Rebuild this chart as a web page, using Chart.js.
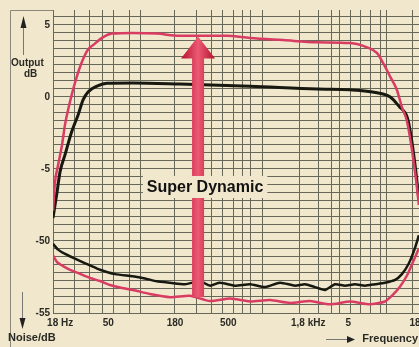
<!DOCTYPE html>
<html>
<head>
<meta charset="utf-8">
<script src="https://cdn.jsdelivr.net/npm/chart.js@4/dist/chart.umd.min.js"></script>
<style>
  html, body { margin: 0; padding: 0; background: #f0e7cd; }
  canvas { display: block; }
</style>
</head>
<body>
<canvas id="chart" width="419" height="347"></canvas>
<script>
// Frequenzgang (Output dB) - Super Dynamic (rot) und normal (schwarz)
const superFreq = [17.3, 18, 19.1, 20.6, 21.8, 23.4, 26.4, 30, 33.9, 37.3, 44.3, 53.7, 80, 127, 198, 488, 760, 1430, 2750, 5170, 7170, 8700, 9770, 11200, 12700, 14000, 15500, 17000, 18400, 19400];
const superOut  = [-7.9, -5.9, -4.7, -3.3, -1.9, -0.7, 1.0, 2.4, 3.3, 3.6, 4.1, 4.4, 4.45, 4.4, 4.25, 4.25, 4.1, 3.95, 3.8, 3.75, 3.45, 3.05, 2.35, 1.4, 0.5, -0.7, -1.75, -3.7, -5.8, -7.5];

const normalFreq = [17.3, 18.7, 19.8, 21.8, 24.8, 28.0, 30.8, 33.9, 40.3, 48.8, 80, 198, 760, 2750, 5170, 8700, 11200, 13400, 15500, 16600, 18000, 19400];
const normalOut  = [-8.4, -6.6, -5.2, -4.0, -2.4, -1.25, -0.2, 0.35, 0.75, 0.95, 0.97, 0.9, 0.75, 0.55, 0.5, 0.3, 0.0, -0.7, -1.4, -2.6, -4.7, -7.1];

// Rauschen (Noise dB)
const normalNoiseFreq = [17.3, 19.1, 21.8, 27.5, 35.2, 42.7, 57, 80, 101, 127, 164, 218, 291, 352, 425, 567, 760, 1010, 1350, 1800, 2180, 2640, 3200, 3880, 4700, 5690, 6900, 8370, 10100, 12300, 14000, 15900, 17800, 19400];
const normalNoise     = [-50.2, -50.6, -50.9, -51.3, -51.7, -52.0, -52.3, -52.45, -52.6, -52.8, -52.9, -53.0, -52.8, -53.1, -52.9, -53.1, -53.0, -53.2, -52.9, -53.1, -53.0, -53.2, -53.4, -53.0, -53.1, -53.0, -53.1, -53.0, -52.9, -52.7, -52.3, -51.6, -50.6, -49.6];

const superNoiseFreq = [17.3, 18.7, 21.0, 24.0, 27.5, 35.2, 42.7, 51.7, 65.1, 80.3, 111, 164, 240, 352, 517, 760, 1114, 1636, 2400, 3520, 5170, 7590, 10120, 11580, 13430, 15510, 17330, 19440];
const superNoise     = [-51.0, -51.46, -51.74, -52.0, -52.2, -52.57, -52.78, -53.06, -53.26, -53.4, -53.68, -53.9, -53.8, -54.17, -54.0, -54.2, -54.1, -54.3, -54.17, -54.4, -54.2, -54.4, -54.2, -53.8, -53.2, -52.36, -51.46, -50.5];

// Achsenbeschriftung
const xTickValues = [18, 50, 180, 500, 1800, 5000, 18000];
const xTickLabels = ['18 Hz', '50', '180', '500', '1,8 kHz', '5', '18'];
const yTickValues = [5, 0, -5, -50, -55];
const yTickLabels = ['5', '0', '-5', '-50', '-55'];

// Rasterlinien des Millimeterpapiers (Frequenzen)
const gridFreqs = [26, 35, 45, 55, 75, 92, 177, 270, 360, 450, 550, 660, 760, 960, 1980, 2800, 3600, 4200, 5200, 6300, 7700, 9200, 10500, 17300];

// Achsenbruch: Rauschwerte (-50 ... -55) liegen direkt unter -5
const NOISE_OFFSET = 40;
const Y_MIN = -15;
const Y_MAX = 6.04;
const GRID_STEP = 5 / 9;

const RED = '#d83c62';
const BLACK = '#17180f';
const GRID = '#68685a';
const INK = '#2a2a24';

function toPoints(freqs, vals, offset = 0) {
    return freqs.map((f, i) => ({ x: f, y: vals[i] + offset }));
}

const decorPlugin = {
    id: 'decor',
    afterDatasetsDraw(chart) {
        const ctx = chart.ctx;
        const xs = chart.scales.x;
        const ys = chart.scales.y;

        // grosser roter Pfeil
        const ax = xs.getPixelForValue(280);
        const tip = ys.getPixelForValue(4.2);
        const bottom = ys.getPixelForValue(-13.9);
        const headH = 22, headW = 17, shaftW = 6;
        const grad = ctx.createLinearGradient(ax - headW, 0, ax + headW, 0);
        grad.addColorStop(0, '#b5102e');
        grad.addColorStop(0.5, '#ec5a74');
        grad.addColorStop(1, '#b5102e');
        ctx.save();
        ctx.fillStyle = grad;
        ctx.beginPath();
        ctx.moveTo(ax, tip);
        ctx.lineTo(ax + headW, tip + headH);
        ctx.lineTo(ax + shaftW, tip + headH);
        ctx.lineTo(ax + shaftW, bottom);
        ctx.lineTo(ax - shaftW, bottom);
        ctx.lineTo(ax - shaftW, tip + headH);
        ctx.lineTo(ax - headW, tip + headH);
        ctx.closePath();
        ctx.fill();

        // Beschriftung "Super Dynamic"
        const ty = ys.getPixelForValue(-6.25);
        const tx = ax + 7;
        ctx.font = 'bold 16px "Liberation Sans", Arial, sans-serif';
        const w = ctx.measureText('Super Dynamic').width;
        ctx.fillStyle = '#f0e7cd';
        ctx.fillRect(tx - w / 2 - 4, ty - 11, w + 8, 22);
        ctx.fillStyle = '#111';
        ctx.textAlign = 'center';
        ctx.textBaseline = 'middle';
        ctx.fillText('Super Dynamic', tx, ty + 1);
        ctx.restore();
    },
    afterDraw(chart) {
        const ctx = chart.ctx;
        const xs = chart.scales.x;
        const ys = chart.scales.y;
        const area = chart.chartArea;
        ctx.save();

        // Rahmen links / oben
        ctx.strokeStyle = '#8a887a';
        ctx.lineWidth = 1;
        ctx.beginPath();
        ctx.moveTo(10.5, 347);
        ctx.lineTo(10.5, area.top + 0.5);
        ctx.lineTo(area.left, area.top + 0.5);
        ctx.stroke();

        // y-Beschriftung
        ctx.fillStyle = INK;
        ctx.font = 'bold 10px "Liberation Sans", Arial, sans-serif';
        ctx.textAlign = 'right';
        ctx.textBaseline = 'middle';
        yTickValues.forEach((v, i) => {
            const val = v <= -50 ? v + NOISE_OFFSET : v;
            ctx.fillText(yTickLabels[i], area.left - 3, ys.getPixelForValue(val));
        });

        // x-Beschriftung
        ctx.textBaseline = 'middle';
        xTickValues.forEach((v, i) => {
            const px = xs.getPixelForValue(v);
            const label = xTickLabels[i];
            if (label.includes('Hz')) {
                ctx.textAlign = 'left';
                ctx.fillText(label, px - (i === 0 ? 8 : 4), area.bottom + 10);
            } else {
                ctx.textAlign = 'center';
                ctx.fillText(label, Math.min(px, 415), area.bottom + 10);
            }
        });

        // Achsentitel
        ctx.font = 'bold 10px "Liberation Sans", Arial, sans-serif';
        ctx.textAlign = 'left';
        ctx.fillText('Output', 11, 63);
        ctx.fillText('dB', 24, 74);
        ctx.font = 'bold 11px "Liberation Sans", Arial, sans-serif';
        ctx.fillText('Noise/dB', 8, 338);
        ctx.textAlign = 'right';
        ctx.fillText('Frequency', 418, 339);

        // Pfeile
        ctx.strokeStyle = '#777';
        ctx.lineWidth = 1;
        ctx.beginPath();
        ctx.moveTo(23.5, 27); ctx.lineTo(23.5, 55);
        ctx.moveTo(22.5, 292); ctx.lineTo(22.5, 320);
        ctx.moveTo(326, 339.5); ctx.lineTo(350, 339.5);
        ctx.stroke();
        ctx.fillStyle = '#222';
        ctx.beginPath();
        ctx.moveTo(23.5, 16); ctx.lineTo(26.5, 28); ctx.lineTo(20.5, 28); ctx.closePath();
        ctx.moveTo(22.5, 329); ctx.lineTo(25.5, 318); ctx.lineTo(19.5, 318); ctx.closePath();
        ctx.moveTo(355, 339.5); ctx.lineTo(347, 336); ctx.lineTo(347, 343); ctx.closePath();
        ctx.fill();
        ctx.restore();
    }
};

new Chart(document.getElementById('chart'), {
    type: 'line',
    data: {
        datasets: [
            {
                label: 'Super Dynamic Output',
                data: toPoints(superFreq, superOut),
                borderColor: RED,
                borderWidth: 2.5,
                cubicInterpolationMode: 'monotone'
            },
            {
                label: 'Output',
                data: toPoints(normalFreq, normalOut),
                borderColor: BLACK,
                borderWidth: 3,
                cubicInterpolationMode: 'monotone'
            },
            {
                label: 'Super Dynamic Noise',
                data: toPoints(superNoiseFreq, superNoise, NOISE_OFFSET),
                borderColor: RED,
                borderWidth: 2.5,
                tension: 0.2
            },
            {
                label: 'Noise',
                data: toPoints(normalNoiseFreq, normalNoise, NOISE_OFFSET),
                borderColor: BLACK,
                borderWidth: 2.5,
                tension: 0.2
            }
        ]
    },
    options: {
        responsive: false,
        animation: false,
        events: [],
        layout: { padding: { left: 53, top: 10, right: 0, bottom: 34 } },
        elements: { point: { radius: 0 } },
        plugins: {
            legend: { display: false },
            tooltip: { enabled: false }
        },
        scales: {
            x: {
                type: 'logarithmic',
                min: 17.3,
                max: 19440,
                afterBuildTicks(scale) {
                    scale.ticks = gridFreqs.map(v => ({ value: v }));
                },
                ticks: { display: false },
                grid: { color: GRID, lineWidth: 1, drawTicks: false },
                border: { display: true, color: GRID, width: 1 }
            },
            y: {
                type: 'linear',
                min: Y_MIN,
                max: Y_MAX,
                afterBuildTicks(scale) {
                    const ticks = [];
                    for (let k = 0; Y_MIN + k * GRID_STEP <= Y_MAX; k++) {
                        ticks.push({ value: Y_MIN + k * GRID_STEP });
                    }
                    scale.ticks = ticks;
                },
                ticks: { display: false },
                grid: { color: GRID, lineWidth: 1, drawTicks: false },
                border: { display: true, color: GRID, width: 1 }
            }
        }
    },
    plugins: [decorPlugin]
});
</script>
</body>
</html>
